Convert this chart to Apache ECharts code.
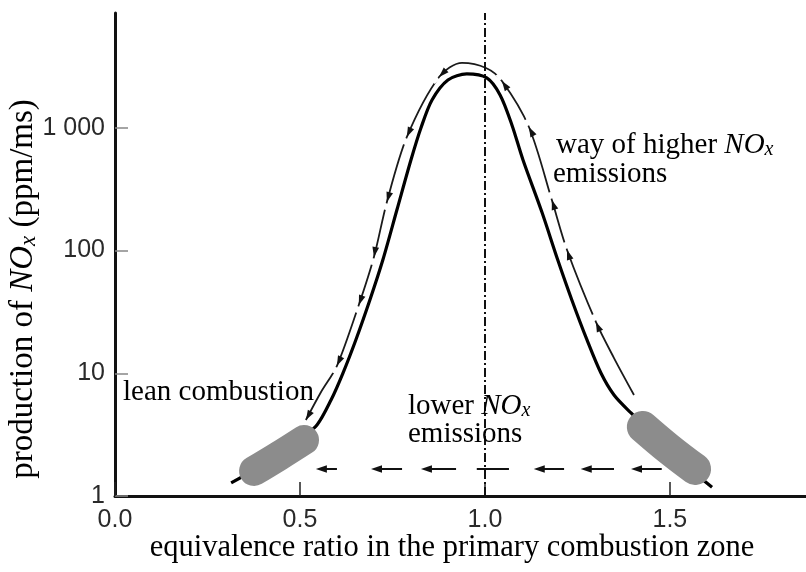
<!DOCTYPE html>
<html><head><meta charset="utf-8">
<script src="https://cdn.jsdelivr.net/npm/echarts@6/dist/echarts.min.js"></script>
<style>html,body{margin:0;padding:0;background:#fff}#c{width:806px;height:572px}</style>
</head><body><div id="c"></div>
<script>
// ---- axis ticks ----
const xTickValues = [0, 0.5, 1.0, 1.5];
const xTickLabels = ['0.0', '0.5', '1.0', '1.5'];
const yTickValues = [1, 10, 100, 1000];
const yTickLabels = ['1', '10', '100', '1 000'];

// ---- main NOx production curve: equivalence ratio -> NOx (ppm/ms) ----
const curveX = [0.314, 0.384, 0.449, 0.503, 0.546, 0.584, 0.616, 0.651, 0.689, 0.724, 0.762, 0.800, 0.827, 0.857, 0.900, 0.951, 1.005, 1.041, 1.073, 1.103, 1.154, 1.197, 1.235, 1.276, 1.314, 1.349, 1.395, 1.470, 1.551, 1.614];
const curveY = [1.28, 1.69, 2.28, 2.97, 3.79, 6.06, 10.0, 18.7, 39.6, 83.8, 214, 547, 998, 1688, 2457, 2750, 2552, 1854, 1056, 547, 206, 83.8, 39.6, 18.7, 10.0, 6.66, 4.75, 2.86, 1.69, 1.18];

// ---- thin path (way of higher NOx emissions) ----
const pathX = [0.516, 0.557, 0.600, 0.659, 0.700, 0.735, 0.789, 0.876, 0.938, 1.003, 1.046, 1.119, 1.181, 1.222, 1.300, 1.349, 1.403];
const pathY = [4.16, 7.04, 11.5, 36.0, 88.7, 249, 843, 2600, 3380, 3075, 2410, 1016, 258, 101, 26.2, 13.3, 6.65];

// arrowheads along the thin path: tip and a point just behind it
const arrowTipX = [0.876, 0.789, 0.735, 0.700, 0.659, 0.600, 0.516, 1.300, 1.222, 1.181, 1.119, 1.046];
const arrowTipY = [2600, 843, 249, 88.7, 36, 11.5, 4.16, 26.2, 101, 258, 1016, 2410];
const arrowBackX = [0.895, 0.800, 0.743, 0.705, 0.668, 0.611, 0.530, 1.311, 1.230, 1.189, 1.130, 1.059];
const arrowBackY = [2965, 998, 300, 107, 42.7, 13.6, 4.93, 22.1, 85.5, 218, 875, 2115];

// ---- horizontal dashed arrows (lower NOx emissions) ----
const hLevel = 1.66;
const hDashStart = [0.543, 0.692, 0.827, 0.978, 1.132, 1.259, 1.395];
const hDashEnd = [0.600, 0.776, 0.922, 1.065, 1.214, 1.349, 1.478];
const hDashArrow = [1, 1, 1, 0, 1, 1, 1];

// ---- operating regions (grey blobs) ----
const leanBlobX = [0.376, 0.443, 0.511];
const leanBlobY = [1.60, 2.12, 2.86];
const richBlobX = [1.427, 1.497, 1.568];
const richBlobY = [3.65, 2.42, 1.66];

const stoichX = 1.0;

const serif = "'Liberation Serif','Times New Roman',serif";
const sans = "'Liberation Sans',Arial,Helvetica,sans-serif";
const zip = (a, b) => a.map((v, i) => [v, b[i]]);

function richFor(size) {
  return {
    t: { fontFamily: serif, fontSize: size, color: '#111', lineHeight: size + 1 },
    n: { fontFamily: serif, fontSize: size, fontStyle: 'italic', color: '#111', lineHeight: size + 1 },
    s: { fontFamily: serif, fontSize: Math.round(size * 0.69), fontStyle: 'italic', color: '#111', lineHeight: Math.round(size * 0.34), verticalAlign: 'bottom' }
  };
}
const rich = richFor(29);

const chart = echarts.init(document.getElementById('c'));
chart.setOption({
  animation: false,
  backgroundColor: '#fff',
  grid: { left: 115, right: 0, top: 13, bottom: 76, containLabel: false },
  xAxis: {
    type: 'value', min: 0, max: 1.868, interval: 0.5,
    axisLine: { lineStyle: { color: '#111', width: 3 } },
    axisTick: { inside: true, length: 14, lineStyle: { color: '#222', width: 1.5 } },
    axisLabel: {
      showMaxLabel: false, margin: 12, color: '#2a2a2a', fontFamily: sans, fontSize: 25,
      formatter: v => { const i = xTickValues.findIndex(t => Math.abs(t - v) < 1e-6); return i >= 0 ? xTickLabels[i] : ''; }
    },
    splitLine: { show: false }
  },
  yAxis: {
    type: 'log', logBase: 10, min: 1, max: 8630,
    axisLine: { lineStyle: { color: '#111', width: 3 } },
    axisTick: { inside: true, length: 13, lineStyle: { color: '#888', width: 1.5 } },
    axisLabel: {
      showMaxLabel: false, margin: 10, color: '#2a2a2a', fontFamily: sans, fontSize: 25,
      formatter: v => { const i = yTickValues.findIndex(t => Math.abs(t - v) / t < 1e-6); return i >= 0 ? yTickLabels[i] : ''; }
    },
    splitLine: { show: false }
  },
  graphic: [
    { type: 'text', x: 23, y: 289, rotation: Math.PI / 2, z: 10,
      style: { text: '{t|production of }{n|NO}{s|x}{t| (ppm/ms)}', align: 'center', verticalAlign: 'middle', rich: richFor(33) } },
    { type: 'text', x: 452, y: 548, z: 10,
      style: { text: '{t|equivalence ratio in the primary combustion zone}', align: 'center', verticalAlign: 'middle', rich: richFor(30.5) } },
    { type: 'text', x: 123, y: 392, z: 10,
      style: { text: '{t|lean combustion}', align: 'left', verticalAlign: 'middle', rich } },
    { type: 'text', x: 408, y: 406, z: 10,
      style: { text: '{t|lower }{n|NO}{s|x}', align: 'left', verticalAlign: 'middle', rich } },
    { type: 'text', x: 408, y: 434, z: 10,
      style: { text: '{t|emissions}', align: 'left', verticalAlign: 'middle', rich } },
    { type: 'text', x: 556, y: 145, z: 10,
      style: { text: '{t|way of higher }{n|NO}{s|x}', align: 'left', verticalAlign: 'middle', rich } },
    { type: 'text', x: 553, y: 174, z: 10,
      style: { text: '{t|emissions}', align: 'left', verticalAlign: 'middle', rich } }
  ],
  series: [
    {
      type: 'line', data: zip(curveX, curveY), smooth: 0.3, symbol: 'none', z: 3,
      lineStyle: { color: '#000', width: 3.2 },
      markLine: {
        silent: true, symbol: 'none', label: { show: false },
        lineStyle: { color: '#111', width: 2, type: [9, 3, 2, 3] },
        data: [{ xAxis: stoichX }]
      }
    },
    {
      type: 'line', data: zip(pathX, pathY), smooth: 0.3, symbol: 'none', z: 2,
      lineStyle: { color: '#1a1a1a', width: 1.8 }
    },
    {
      type: 'custom', z: 4,
      data: arrowTipX.map((v, i) => [v, arrowTipY[i], arrowBackX[i], arrowBackY[i]]),
      encode: { x: [0, 2], y: [1, 3] },
      renderItem: (params, api) => {
        const tip = api.coord([api.value(0), api.value(1)]);
        const back = api.coord([api.value(2), api.value(3)]);
        let dx = tip[0] - back[0], dy = tip[1] - back[1];
        const len = Math.hypot(dx, dy) || 1; dx /= len; dy /= len;
        const L = 10, W = 3.4;
        const bx = tip[0] - dx * L, by = tip[1] - dy * L;
        return {
          type: 'group', children: [
            { type: 'line', shape: { x1: tip[0] + dx * 1.5, y1: tip[1] + dy * 1.5, x2: tip[0] + dx * 8, y2: tip[1] + dy * 8 }, style: { stroke: '#fff', lineWidth: 4 } },
            { type: 'polygon', shape: { points: [[tip[0], tip[1]], [bx - dy * W, by + dx * W], [bx + dy * W, by - dx * W]] }, style: { fill: '#111' } }
          ]
        };
      }
    },
    {
      type: 'custom', z: 4,
      data: hDashStart.map((v, i) => [v, hLevel, hDashEnd[i], hDashArrow[i]]),
      encode: { x: [0, 2], y: 1 },
      renderItem: (params, api) => {
        const p1 = api.coord([api.value(0), api.value(1)]);
        const p2 = api.coord([api.value(2), api.value(1)]);
        const children = [
          { type: 'line', shape: { x1: p1[0] + (api.value(3) ? 6 : 0), y1: p1[1], x2: p2[0], y2: p2[1] }, style: { stroke: '#111', lineWidth: 2 } }
        ];
        if (api.value(3)) {
          children.push({ type: 'polygon', shape: { points: [[p1[0], p1[1]], [p1[0] + 11, p1[1] - 3.8], [p1[0] + 11, p1[1] + 3.8]] }, style: { fill: '#111' } });
        }
        return { type: 'group', children };
      }
    },
    {
      type: 'line', data: zip(leanBlobX, leanBlobY), smooth: 0.4, symbol: 'none', z: 5,
      lineStyle: { color: '#8c8c8c', width: 30, cap: 'round', join: 'round' }
    },
    {
      type: 'line', data: zip(richBlobX, richBlobY), smooth: 0.4, symbol: 'none', z: 5,
      lineStyle: { color: '#8c8c8c', width: 32, cap: 'round', join: 'round' }
    }
  ]
});
</script>
</body></html>
